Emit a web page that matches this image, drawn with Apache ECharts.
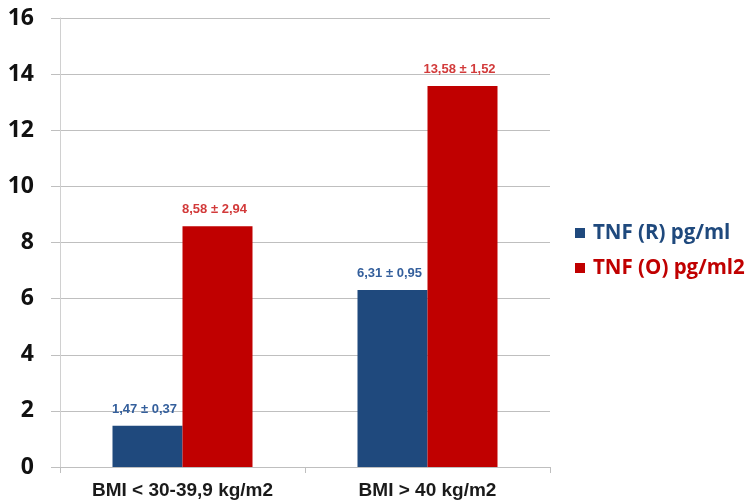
<!DOCTYPE html>
<html>
<head>
<meta charset="utf-8">
<script src="https://cdn.jsdelivr.net/npm/echarts@6/dist/echarts.min.js"></script>
<style>
  html, body { margin: 0; padding: 0; background: #ffffff; }
  #chart { width: 753px; height: 501px; }
</style>
</head>
<body>
<div id="chart"></div>
<script>
// BMI groups on the category axis
const categories = ['BMI < 30-39,9 kg/m2', 'BMI > 40 kg/m2'];

// TNF means per group
const tnfR = [1.47, 6.31];
const tnfO = [8.58, 13.58];

// standard deviations shown beside each mean
const tnfRsd = [0.37, 0.95];
const tnfOsd = [2.94, 1.52];

const seriesNames = ['TNF (R) pg/ml', 'TNF (O) pg/ml2'];
const yTicks = [0, 2, 4, 6, 8, 10, 12, 14, 16];

const fmt = v => v.toFixed(2).replace('.', ',');

const chart = echarts.init(document.getElementById('chart'), null, { renderer: 'canvas' });

const labelFor = (sd, color) => ({
  show: true,
  position: 'top',
  distance: 10,
  offset: [-3, 0],
  fontFamily: 'Liberation Sans, Arial, sans-serif',
  fontWeight: 'bold',
  fontSize: 13,
  color: color,
  formatter: p => fmt(p.value) + ' \u00b1 ' + fmt(sd[p.dataIndex])
});

chart.setOption({
  animation: false,
  backgroundColor: '#ffffff',
  grid: { left: 60, right: 203, top: 18, bottom: 34 },
  legend: {
    orient: 'vertical',
    left: 575,
    top: 221,
    padding: 0,
    icon: 'rect',
    itemWidth: 10,
    itemHeight: 10,
    itemGap: 11,
    data: [
      { name: seriesNames[0], textStyle: { color: '#1f497d' } },
      { name: seriesNames[1], textStyle: { color: '#c00000' } }
    ],
    textStyle: {
      fontFamily: 'Open Sans, sans-serif',
      fontWeight: 'bold',
      fontSize: 20.5,
      lineHeight: 24,
      padding: [0, 0, 0, 3]
    }
  },
  xAxis: {
    type: 'category',
    data: categories,
    axisLine: { show: true, lineStyle: { color: '#bfbfbf', width: 1 } },
    axisTick: { show: true, length: 6, lineStyle: { color: '#bfbfbf' } },
    axisLabel: {
      margin: 14,
      fontFamily: 'Liberation Sans, Arial, sans-serif',
      fontWeight: 'bold',
      fontSize: 19,
      color: '#1a1a1a'
    }
  },
  yAxis: {
    type: 'value',
    min: yTicks[0],
    max: yTicks[yTicks.length - 1],
    interval: 2,
    axisLine: { show: true, lineStyle: { color: '#d0d0d0', width: 1 } },
    axisTick: { show: true, length: 9, lineStyle: { color: '#bfbfbf' } },
    splitLine: { show: true, lineStyle: { color: '#bfbfbf', width: 1 } },
    axisLabel: {
      margin: 26,
      fontFamily: 'Open Sans, sans-serif',
      fontWeight: 'bold',
      fontSize: 23,
      color: '#111111'
    }
  },
  series: [
    {
      name: seriesNames[0],
      type: 'bar',
      data: tnfR,
      barWidth: 70,
      barGap: '0%',
      itemStyle: { color: '#1f497d' },
      label: labelFor(tnfRsd, '#345f9c')
    },
    {
      name: seriesNames[1],
      type: 'bar',
      data: tnfO,
      barWidth: 70,
      barGap: '0%',
      itemStyle: { color: '#c00000' },
      label: labelFor(tnfOsd, '#d23a3a')
    }
  ]
});
</script>
</body>
</html>
